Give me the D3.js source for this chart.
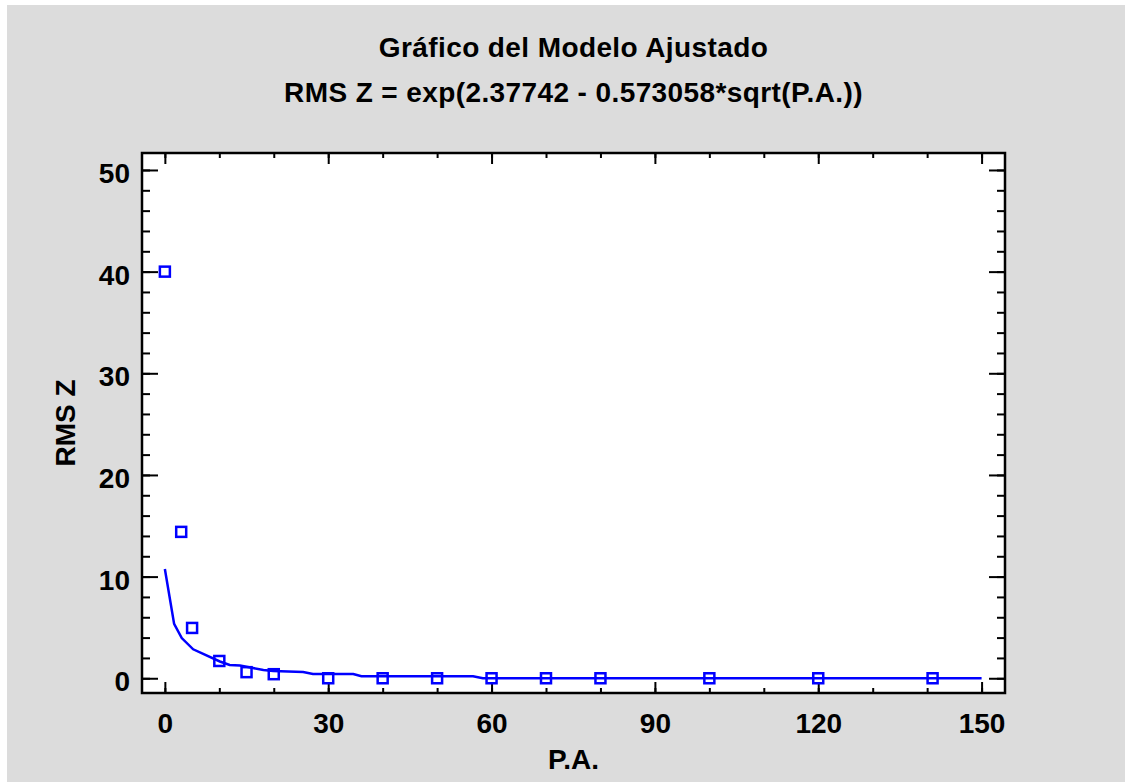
<!DOCTYPE html>
<html lang="es">
<head>
<meta charset="UTF-8">
<title>Gráfico del Modelo Ajustado</title>
<script src="https://d3js.org/d3.v7.min.js"></script>
<style>
  body { margin: 0; background: #fff; }
  text { font-family: "Liberation Sans", Arial, sans-serif; font-weight: bold; fill: #000; }
</style>
</head>
<body>
<div id="chart"></div>
<script>
// observed points
const ptX = [0, 3, 5, 10, 15, 20, 30, 40, 50, 60, 70, 80, 100, 120, 141];
const ptY = [40.0, 14.4, 4.95, 1.7, 0.6, 0.4, 0.0, 0.0, 0.0, 0.0, 0.0, 0.0, 0.0, 0.0, 0.0];

// fitted line
const lineX = [0, 1.7, 3.1, 5.2, 10.1, 11.9, 13.8, 16.2, 18.1, 19.9, 25.4, 27.2, 34.6, 36.1, 56.6, 58.4, 150];
const lineY = [10.75, 5.35, 3.95, 2.85, 1.65, 1.3, 1.25, 1.0, 0.82, 0.72, 0.62, 0.42, 0.42, 0.2, 0.2, 0.0, 0.0];

const xMajor = [0, 30, 60, 90, 120, 150];
const xMinor = d3.range(0, 151, 10);
const yMajor = [0, 10, 20, 30, 40, 50];
const yMinor = d3.range(0, 51, 2);

const titleLines = ["Gráfico del Modelo Ajustado", "RMS Z = exp(2.37742 - 0.573058*sqrt(P.A.))"];
const xTitle = "P.A.";
const yTitle = "RMS Z";

const W = 1125, H = 782;
const plot = { left: 142, top: 153, right: 1005, bottom: 693 };

const svg = d3.select("#chart").append("svg")
  .attr("width", W).attr("height", H);

// gray panel
svg.append("rect")
  .attr("x", 7).attr("y", 5)
  .attr("width", W - 7).attr("height", H - 5)
  .attr("fill", "#dcdcdc");

svg.append("rect")
  .attr("x", plot.left).attr("y", plot.top)
  .attr("width", plot.right - plot.left).attr("height", plot.bottom - plot.top)
  .attr("fill", "#fff");

const x = d3.scaleLinear().domain([-4.2, 154.3]).range([plot.left, plot.right]);
const y = d3.scaleLinear().domain([-1.45, 51.67]).range([plot.bottom, plot.top]);

function styleAxis(g) {
  g.select(".domain").remove();
  g.selectAll("line").attr("stroke", "#000").attr("stroke-width", 2);
}

// minor ticks, all four sides
svg.append("g").attr("transform", `translate(0,${plot.bottom})`)
  .call(d3.axisBottom(x).tickValues(xMinor).tickSize(-5).tickFormat(""))
  .call(styleAxis);
svg.append("g").attr("transform", `translate(0,${plot.top})`)
  .call(d3.axisTop(x).tickValues(xMinor).tickSize(-5).tickFormat(""))
  .call(styleAxis);
svg.append("g").attr("transform", `translate(${plot.left},0)`)
  .call(d3.axisLeft(y).tickValues(yMinor).tickSize(-8).tickFormat(""))
  .call(styleAxis);
svg.append("g").attr("transform", `translate(${plot.right},0)`)
  .call(d3.axisRight(y).tickValues(yMinor).tickSize(-8).tickFormat(""))
  .call(styleAxis);

// major ticks with labels
const xAx = svg.append("g").attr("transform", `translate(0,${plot.bottom})`)
  .call(d3.axisBottom(x).tickValues(xMajor).tickSize(-11).tickPadding(20))
  .call(styleAxis);
xAx.selectAll("text").style("font-size", "28px").attr("fill", "#000");

svg.append("g").attr("transform", `translate(0,${plot.top})`)
  .call(d3.axisTop(x).tickValues(xMajor).tickSize(-11).tickFormat(""))
  .call(styleAxis);

const yAx = svg.append("g").attr("transform", `translate(${plot.left},0)`)
  .call(d3.axisLeft(y).tickValues(yMajor).tickSize(-16).tickPadding(12))
  .call(styleAxis);
yAx.selectAll("text").style("font-size", "28px").attr("fill", "#000").attr("dy", "0.45em");

svg.append("g").attr("transform", `translate(${plot.right},0)`)
  .call(d3.axisRight(y).tickValues(yMajor).tickSize(-16).tickFormat(""))
  .call(styleAxis);

// frame
svg.append("rect")
  .attr("x", plot.left).attr("y", plot.top)
  .attr("width", plot.right - plot.left).attr("height", plot.bottom - plot.top)
  .attr("fill", "none").attr("stroke", "#000").attr("stroke-width", 2.5);

// fitted line
const line = d3.line().x((d, i) => x(lineX[i])).y(d => y(d));
svg.append("path")
  .datum(lineY)
  .attr("d", line)
  .attr("fill", "none")
  .attr("stroke", "#0000ff")
  .attr("stroke-width", 2.5);

// points
svg.selectAll("rect.pt")
  .data(ptY)
  .enter()
  .append("rect")
  .attr("class", "pt")
  .attr("x", (d, i) => x(ptX[i]) - 5)
  .attr("y", d => y(d) - 5)
  .attr("width", 10).attr("height", 10)
  .attr("fill", "none")
  .attr("stroke", "#0000ff")
  .attr("stroke-width", 2.5);

// titles
const cx = (plot.left + plot.right) / 2;
svg.selectAll("text.title")
  .data(titleLines)
  .enter()
  .append("text")
  .attr("class", "title")
  .attr("x", cx)
  .attr("y", (d, i) => 57 + i * 45)
  .attr("text-anchor", "middle")
  .style("font-size", "28px")
  .style("letter-spacing", "0.4px")
  .text(d => d);

svg.append("text")
  .attr("x", cx).attr("y", 769)
  .attr("text-anchor", "middle")
  .style("font-size", "28px")
  .text(xTitle);

svg.append("text")
  .attr("transform", `translate(75,${(plot.top + plot.bottom) / 2}) rotate(-90)`)
  .attr("text-anchor", "middle")
  .style("font-size", "28px")
  .text(yTitle);
</script>
</body>
</html>
